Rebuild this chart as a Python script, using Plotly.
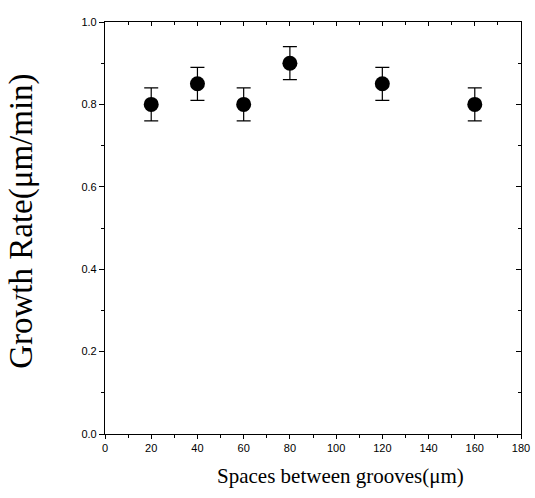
import plotly.graph_objects as go

spacing = [20, 40, 60, 80, 120, 160]
growth_rate = [0.80, 0.85, 0.80, 0.90, 0.85, 0.80]
error = [0.04, 0.04, 0.04, 0.04, 0.04, 0.04]
x_ticks = [0, 20, 40, 60, 80, 100, 120, 140, 160, 180]
y_ticks = [0.0, 0.2, 0.4, 0.6, 0.8, 1.0]
y_tick_labels = ["0.0", "0.2", "0.4", "0.6", "0.8", "1.0"]
x_title = "Spaces between grooves(μm)"
y_title = "Growth Rate(μm/min)"

fig = go.Figure()
fig.add_trace(go.Scatter(
    x=spacing, y=growth_rate, mode="markers",
    marker=dict(color="black", size=15, symbol="circle"),
    error_y=dict(type="data", array=error, visible=True, color="black", thickness=1.2, width=7),
    showlegend=False, xaxis="x", yaxis="y"))
# invisible trace to activate mirrored axes
fig.add_trace(go.Scatter(x=[None], y=[None], xaxis="x2", yaxis="y2", showlegend=False))

tickfont = dict(family="Liberation Sans, Arial", size=11, color="black")
serif = "Liberation Serif, Times New Roman"
fig.update_layout(
    width=535, height=498,
    margin=dict(l=105, r=14, t=22, b=64, autoexpand=False),
    plot_bgcolor="white", paper_bgcolor="white",
    xaxis=dict(range=[0, 180], tickvals=x_ticks, ticks="outside", ticklen=4, tickwidth=1,
               tickcolor="black", showline=True, linecolor="black", linewidth=1.2,
               showgrid=False, zeroline=False, tickfont=tickfont, automargin=False,
               minor=dict(dtick=10, ticks="outside", ticklen=3, tickcolor="black")),
    yaxis=dict(range=[0, 1.0], tickvals=y_ticks, ticktext=y_tick_labels, ticks="outside",
               ticklen=5, tickwidth=1, tickcolor="black", showline=True, linecolor="black",
               linewidth=1.2, showgrid=False, zeroline=False, tickfont=tickfont, automargin=False,
               minor=dict(dtick=0.1, ticks="outside", ticklen=3, tickcolor="black")),
    xaxis2=dict(range=[0, 180], overlaying="x", side="top", tickvals=x_ticks, ticks="inside",
                ticklen=4, tickcolor="black", showticklabels=False, showline=True, automargin=False,
                linecolor="black", linewidth=1.2, showgrid=False, zeroline=False,
                minor=dict(dtick=10, ticks="inside", ticklen=3, tickcolor="black")),
    yaxis2=dict(range=[0, 1.0], overlaying="y", side="right", tickvals=y_ticks, ticks="inside",
                ticklen=5, tickcolor="black", showticklabels=False, showline=True, automargin=False,
                linecolor="black", linewidth=1.2, showgrid=False, zeroline=False,
                minor=dict(dtick=0.1, ticks="inside", ticklen=3, tickcolor="black")),
    annotations=[
        dict(text=x_title, xref="paper", yref="paper", x=0.565, y=-0.102,
             xanchor="center", yanchor="middle", showarrow=False,
             font=dict(family=serif, size=21, color="black")),
        dict(text=y_title, xref="paper", yref="paper", x=-0.1995, y=0.515, textangle=-90,
             xanchor="center", yanchor="middle", showarrow=False,
             font=dict(family=serif, size=33, color="black")),
    ],
)

fig.write_html("out.html")
